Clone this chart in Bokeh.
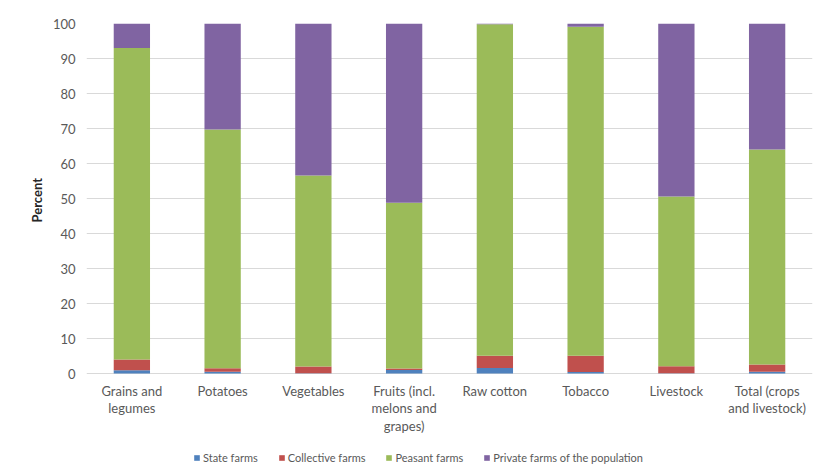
from bokeh.plotting import figure
from bokeh.models import (ColumnDataSource, Range1d, Legend, LegendItem, FactorRange,
                          FixedTicker, Title)
from bokeh.core.properties import value
from bokeh.embed import file_html
from bokeh.resources import INLINE

categories = ["Grains and\nlegumes", "Potatoes", "Vegetables", "Fruits (incl.\nmelons and\ngrapes)",
              "Raw cotton", "Tobacco", "Livestock", "Total (crops\nand livestock)"]
series = ["State farms", "Collective farms", "Peasant farms", "Private farms of the population"]
state = [0.9, 0.5, 0.1, 1.0, 1.6, 0.4, 0.1, 0.5]
collective = [3.1, 1.0, 1.9, 0.4, 3.5, 4.7, 2.0, 2.1]
peasant = [89.0, 68.2, 54.6, 47.4, 94.7, 94.0, 48.5, 61.4]
private = [7.0, 30.3, 43.4, 51.2, 0.2, 0.9, 49.4, 36.0]
y_ticks = [0, 10, 20, 30, 40, 50, 60, 70, 80, 90, 100]
colors = ["#4F81BD", "#C0504D", "#9BBB59", "#8064A2"]

FONT = "Lato"
src = ColumnDataSource(dict(cat=categories, state=state, collective=collective,
                            peasant=peasant, private=private,
                            base=[0] * len(categories)))

# frame extends below the zero line so that category labels and legend sit inside it
p = figure(frame_width=726, frame_height=450, x_range=FactorRange(*categories),
           y_range=Range1d(-100 * 100 / 350, 100),
           output_backend="svg", toolbar_location=None, x_axis_location=None,
           min_border_left=86, min_border_right=7, min_border_top=23, min_border_bottom=0)
p.outline_line_color = None
p.border_fill_color = "white"

renderers = p.vbar_stack(["state", "collective", "peasant", "private"], x="cat", width=0.4,
                         color=colors, source=src, line_color=None)

# category labels under the zero line
p.text(x="cat", y="base", text="cat", source=src, text_font=value(FONT),
       text_font_size="13px", text_color="#595959", text_align="center",
       text_baseline="top", y_offset=9, text_line_height=1.12)

p.yaxis.ticker = FixedTicker(ticks=y_ticks)
p.yaxis.axis_line_color = None
p.yaxis.major_tick_line_color = None
p.yaxis.minor_tick_line_color = None
p.yaxis.major_label_text_font = FONT
p.yaxis.major_label_text_font_size = "13px"
p.yaxis.major_label_text_color = "#595959"

ylab = Title(text="Percent", align="left", offset=251, text_font=FONT,
             text_font_size="13px", text_font_style="bold", text_color="#262626")
p.add_layout(ylab, "left")

p.xgrid.grid_line_color = None
p.ygrid.grid_line_color = "#D9D9D9"
p.ygrid.ticker = FixedTicker(ticks=y_ticks)

legend = Legend(items=[LegendItem(label=s, renderers=[r]) for s, r in zip(series, renderers)],
                orientation="horizontal", location=(107, 9))
legend.label_text_font = FONT
legend.label_text_font_size = "11px"
legend.label_text_color = "#595959"
legend.glyph_width = 7
legend.glyph_height = 7
legend.label_height = 12
legend.spacing = 20
legend.label_standoff = 3
legend.border_line_color = None
legend.background_fill_alpha = 0
legend.padding = 0
legend.margin = 0
p.add_layout(legend, "center")

open("out.html", "w").write(file_html(p, INLINE))
